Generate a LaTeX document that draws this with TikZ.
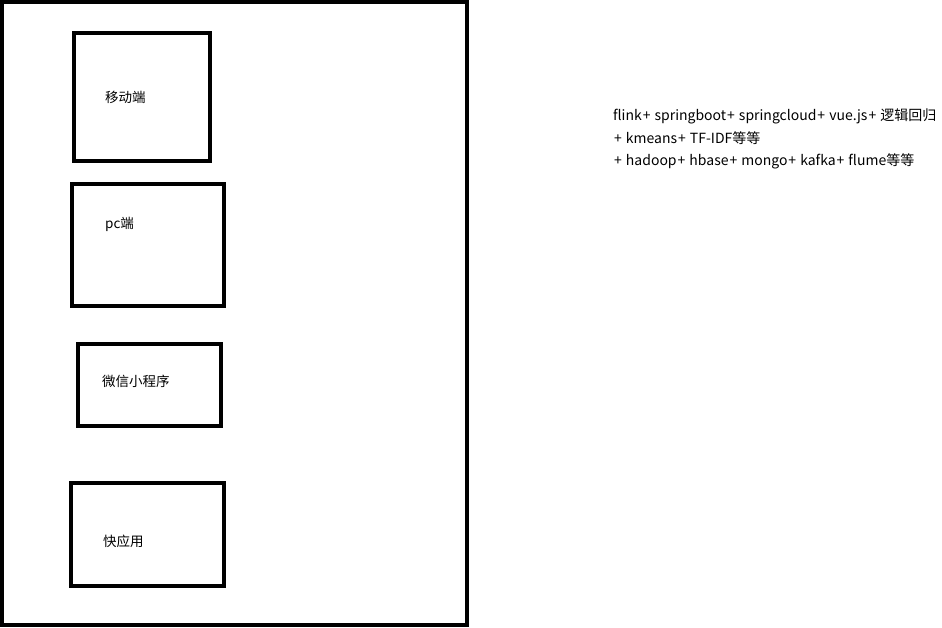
\documentclass[tikz,border=0pt]{standalone}
\usepackage{fontspec}
\setmainfont{Noto Sans CJK SC}
\usetikzlibrary{positioning}

\newcommand{\pl}{\kern1pt+\kern4pt}

\tikzset{
  frame/.style={draw, line width=3.5pt},
  appbox/.style={draw, line width=4pt, inner sep=0pt},
  applabel/.style={anchor=west, inner sep=0pt, font=\fontsize{13.5}{15}\selectfont},
}

\begin{document}
\begin{tikzpicture}[x=1pt,y=-1pt]

          \useasboundingbox (0,0) rectangle (942,627);

          \node[frame, minimum width=465pt, minimum height=623pt] (outer) at (234.5,313.5) { };

          \node[appbox, minimum width=136pt, minimum height=128pt] (mobile) at (142,97)  { };
          \node[appbox, minimum width=152pt, minimum height=122pt] (pc)     at (148,245) { };
          \node[appbox, minimum width=143pt, minimum height=82pt]  (wechat) at (149.5,385) { };
          \node[appbox, minimum width=153pt, minimum height=103pt] (quick)  at (147.5,534.5) { };

          \node[applabel] (mobile-t) at (105,97)  {移动端};
          \node[applabel] (pc-t)     at (105,224) {pc端};
          \node[applabel] (wechat-t) at (102,381) {微信小程序};
          \node[applabel] (quick-t)  at (103,541) {快应用};

          \node[anchor=north west, inner sep=0pt, align=left,
                font=\fontsize{14}{22.5}\selectfont] (stack) at (613,109)
               {flink\pl springboot\pl springcloud\pl vue.js\pl 逻辑回归\\
                \pl kmeans\pl TF-IDF等等\\
                \pl hadoop\pl hbase\pl mongo\pl kafka\pl flume等等};

        \end{tikzpicture}
\end{document}
